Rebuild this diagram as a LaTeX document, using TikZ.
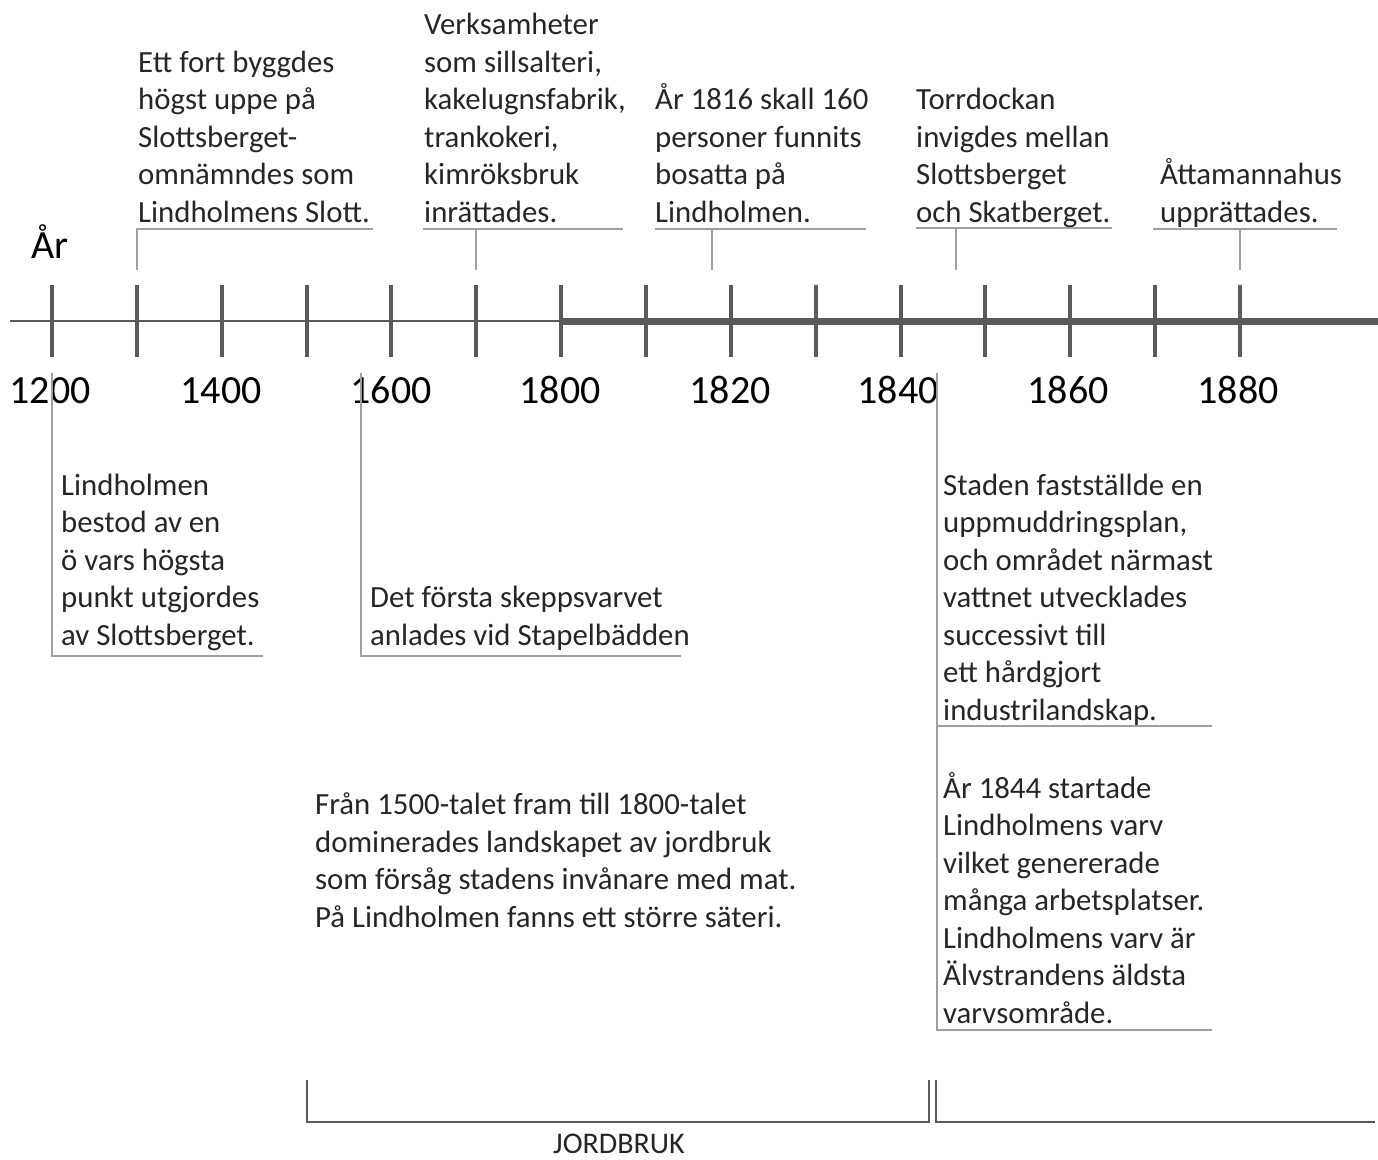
\documentclass[tikz,border=0pt]{standalone}
\usepackage{fontspec}
\setmainfont{Carlito}
\definecolor{axisgray}{HTML}{5A5A5A}
\definecolor{callgray}{HTML}{A0A0A0}
\definecolor{txt}{HTML}{262626}
\begin{document}
\begin{tikzpicture}[x=1pt,y=-1pt,
  txtnode/.style={anchor=base west, inner sep=0pt, align=left, font=\fontsize{30.8}{37.5}\selectfont, text=txt},
  yearlbl/.style={anchor=base, inner sep=0pt, font=\fontsize{40}{46}\selectfont, text=black},
  callout/.style={draw=callgray, line width=1.3pt},
  tickmark/.style={draw=axisgray, line width=4pt},
  bracketline/.style={draw=axisgray, line width=2.5pt},
]
\useasboundingbox (0,0) rectangle (1378,1159);
% axis
\coordinate (axL) at (10,321);
\coordinate (axM) at (561,321);
\coordinate (axR) at (1378,321);
\draw[draw=axisgray, line width=2pt] (axL) -- (axM);
\draw[draw=axisgray, line width=7pt] (axM) -- (axR);
\foreach \i in {0,...,14} {
  \coordinate (tt\i) at ({52+84.86*\i},285);
  \coordinate (tb\i) at ({52+84.86*\i},357);
  \draw[tickmark] (tt\i) -- (tb\i);
}
% year labels
\node[yearlbl] (y1200) at (50,403) {1200};
\node[yearlbl] (y1400) at (221,403) {1400};
\node[yearlbl] (y1600) at (391,403) {1600};
\node[yearlbl] (y1800) at (560,403) {1800};
\node[yearlbl] (y1820) at (730,403) {1820};
\node[yearlbl] (y1840) at (898,403) {1840};
\node[yearlbl] (y1860) at (1068,403) {1860};
\node[yearlbl] (y1880) at (1238,403) {1880};
\node[yearlbl] (aar) at (50,258) {År};

% upper callouts
\node[txtnode] (u1) at (138,222) {Ett fort byggdes\\högst uppe på\\Slottsberget-\\omnämndes som\\Lindholmens Slott.};
\coordinate (u1a) at (137,229); \coordinate (u1b) at (373,229); \coordinate (u1c) at (137,270);
\draw[callout] (u1c) -- (u1a) -- (u1b);

\node[txtnode] (u2) at (424,222) {Verksamheter\\som sillsalteri,\\kakelugnsfabrik,\\trankokeri,\\kimröksbruk\\inrättades.};
\coordinate (u2a) at (423,229); \coordinate (u2b) at (623,229); \coordinate (u2m) at (476,229); \coordinate (u2c) at (476,270);
\draw[callout] (u2a) -- (u2b);
\draw[callout] (u2m) -- (u2c);

\node[txtnode] (u3) at (655,222) {År 1816 skall 160\\personer funnits\\bosatta på\\Lindholmen.};
\coordinate (u3a) at (655,229); \coordinate (u3b) at (866,229); \coordinate (u3m) at (712,229); \coordinate (u3c) at (712,270);
\draw[callout] (u3a) -- (u3b);
\draw[callout] (u3m) -- (u3c);

\node[txtnode] (u4) at (916,222) {Torrdockan\\invigdes mellan\\Slottsberget\\och Skatberget.};
\coordinate (u4a) at (916,228); \coordinate (u4b) at (1112,228); \coordinate (u4m) at (956,228); \coordinate (u4c) at (956,270);
\draw[callout] (u4a) -- (u4b);
\draw[callout] (u4m) -- (u4c);

\node[txtnode] (u5) at (1160,222) {Åttamannahus\\upprättades.};
\coordinate (u5a) at (1153,229); \coordinate (u5b) at (1337,229); \coordinate (u5m) at (1240,229); \coordinate (u5c) at (1240,270);
\draw[callout] (u5a) -- (u5b);
\draw[callout] (u5m) -- (u5c);

% lower callouts
\node[txtnode] (l1) at (61,645) {Lindholmen\\bestod av en\\ö vars högsta\\punkt utgjordes\\av Slottsberget.};
\coordinate (l1a) at (52,373); \coordinate (l1b) at (52,656); \coordinate (l1c) at (263,656);
\draw[callout] (l1a) -- (l1b) -- (l1c);

\node[txtnode] (l2) at (370,645) {Det första skeppsvarvet\\anlades vid Stapelbädden};
\coordinate (l2a) at (361,373); \coordinate (l2b) at (361,656); \coordinate (l2c) at (681,656);
\draw[callout] (l2a) -- (l2b) -- (l2c);

\node[txtnode] (l3) at (943,720) {Staden fastställde en\\uppmuddringsplan,\\och området närmast\\vattnet utvecklades\\successivt till\\ett hårdgjort\\industrilandskap.};
\node[txtnode] (l4) at (943,1023) {År 1844 startade\\Lindholmens varv\\vilket genererade\\många arbetsplatser.\\Lindholmens varv är\\Älvstrandens äldsta\\varvsområde.};
\coordinate (l3a) at (937,373); \coordinate (l3m) at (937,726); \coordinate (l3n) at (1212,726);
\coordinate (l3b) at (937,1030); \coordinate (l3c) at (1212,1030);
\draw[callout] (l3a) -- (l3b) -- (l3c);
\draw[callout] (l3m) -- (l3n);

% middle text
\node[txtnode] (mid) at (315,927) {Från 1500-talet fram till 1800-talet\\dominerades landskapet av jordbruk\\som försåg stadens invånare med mat.\\På Lindholmen fanns ett större säteri.};

% brackets
\coordinate (b1a) at (307,1080); \coordinate (b1b) at (307,1122); \coordinate (b1c) at (929,1122); \coordinate (b1d) at (929,1080);
\draw[bracketline] (b1a) -- (b1b) -- (b1c) -- (b1d);
\coordinate (b2a) at (936,1080); \coordinate (b2b) at (936,1122); \coordinate (b2c) at (1375,1122);
\draw[bracketline] (b2a) -- (b2b) -- (b2c);
\node[anchor=base, inner sep=0pt, font=\fontsize{30}{36}\selectfont, text=txt] (jord) at (619,1153) {JORDBRUK};
\end{tikzpicture}
\end{document}
